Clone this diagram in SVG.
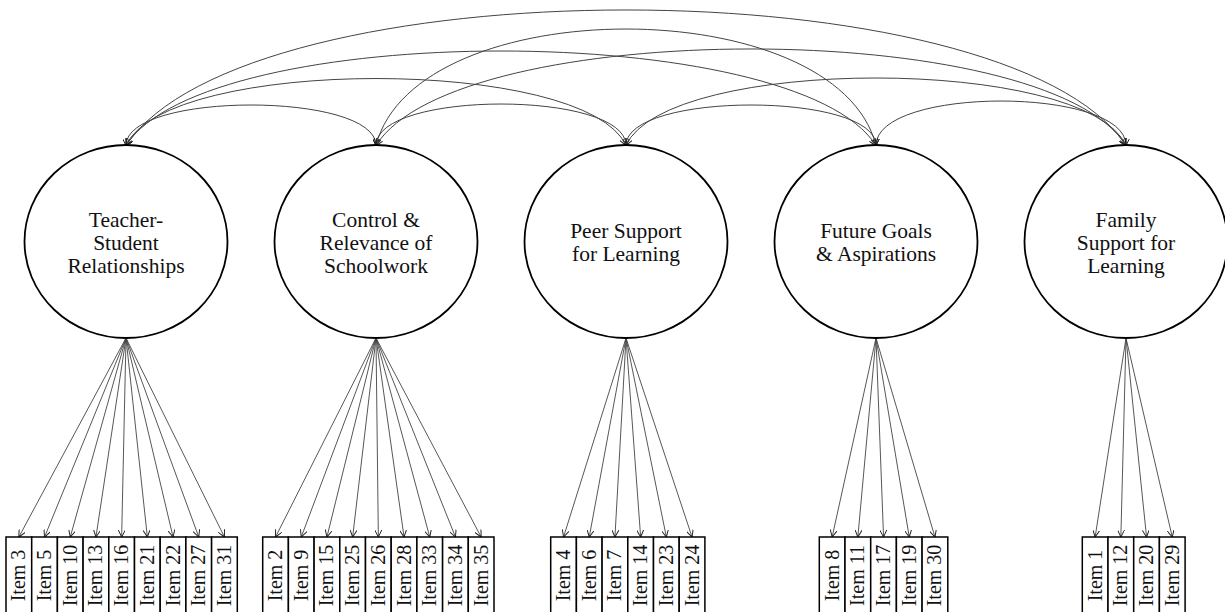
<svg xmlns="http://www.w3.org/2000/svg" width="1225" height="612" viewBox="0 0 1225 612">
<style>
.lv{fill:#fff;stroke:#000;stroke-width:1.8}
.lt{font-family:"Liberation Serif","DejaVu Serif",serif;font-size:21.5px;fill:#111;text-anchor:middle}
.bx{fill:#fff;stroke:#000;stroke-width:1.5}
.it{font-family:"Liberation Serif","DejaVu Serif",serif;font-size:20px;fill:#111;text-anchor:middle}
.cov{fill:none;stroke:#444;stroke-width:1;marker-start:url(#ah);marker-end:url(#ah)}
.ld{fill:none;stroke:#444;stroke-width:0.9;marker-end:url(#ah)}
</style>
<defs>
<marker id="ah" viewBox="0 0 10 10" refX="10" refY="5" markerWidth="7" markerHeight="7" markerUnits="userSpaceOnUse" orient="auto-start-reverse">
<path d="M0,0 L10,5 L0,10" fill="none" stroke="#222" stroke-width="1.4"/>
</marker>
</defs>
<g id="connectors">
<path class="cov" d="M126,145.5 C126,91.5 376,91.5 376,145.5"/>
<path class="cov" d="M376,145.5 C376,90.2 626,90.2 626,145.5"/>
<path class="cov" d="M626,145.5 C626,91.5 876,91.5 876,145.5"/>
<path class="cov" d="M876,145.5 C876,86.2 1126,86.2 1126,145.5"/>
<path class="cov" d="M126,145.5 C166,56.2 586,56.2 626,145.5"/>
<path class="cov" d="M626,145.5 C666,55.5 1086,55.5 1126,145.5"/>
<path class="cov" d="M376,145.5 C416,-9.8 836,-9.8 876,145.5"/>
<path class="cov" d="M126,145.5 C206,19.5 796,19.5 876,145.5"/>
<path class="cov" d="M376,145.5 C456,16.8 1046,16.8 1126,145.5"/>
<path class="cov" d="M126,145.5 C246,-35.2 1006,-35.2 1126,145.5"/>
<line class="ld" x1="126" y1="338" x2="18.85" y2="537"/>
<line class="ld" x1="126" y1="338" x2="44.55" y2="537"/>
<line class="ld" x1="126" y1="338" x2="70.25" y2="537"/>
<line class="ld" x1="126" y1="338" x2="95.95" y2="537"/>
<line class="ld" x1="126" y1="338" x2="121.65" y2="537"/>
<line class="ld" x1="126" y1="338" x2="147.35" y2="537"/>
<line class="ld" x1="126" y1="338" x2="173.05" y2="537"/>
<line class="ld" x1="126" y1="338" x2="198.75" y2="537"/>
<line class="ld" x1="126" y1="338" x2="224.45" y2="537"/>
<line class="ld" x1="376" y1="338" x2="275.55" y2="537"/>
<line class="ld" x1="376" y1="338" x2="301.25" y2="537"/>
<line class="ld" x1="376" y1="338" x2="326.95" y2="537"/>
<line class="ld" x1="376" y1="338" x2="352.65" y2="537"/>
<line class="ld" x1="376" y1="338" x2="378.35" y2="537"/>
<line class="ld" x1="376" y1="338" x2="404.05" y2="537"/>
<line class="ld" x1="376" y1="338" x2="429.75" y2="537"/>
<line class="ld" x1="376" y1="338" x2="455.45" y2="537"/>
<line class="ld" x1="376" y1="338" x2="481.15" y2="537"/>
<line class="ld" x1="626" y1="338" x2="563.55" y2="537"/>
<line class="ld" x1="626" y1="338" x2="589.25" y2="537"/>
<line class="ld" x1="626" y1="338" x2="614.95" y2="537"/>
<line class="ld" x1="626" y1="338" x2="640.65" y2="537"/>
<line class="ld" x1="626" y1="338" x2="666.35" y2="537"/>
<line class="ld" x1="626" y1="338" x2="692.05" y2="537"/>
<line class="ld" x1="876" y1="338" x2="832.15" y2="537"/>
<line class="ld" x1="876" y1="338" x2="857.85" y2="537"/>
<line class="ld" x1="876" y1="338" x2="883.55" y2="537"/>
<line class="ld" x1="876" y1="338" x2="909.25" y2="537"/>
<line class="ld" x1="876" y1="338" x2="934.95" y2="537"/>
<line class="ld" x1="1126" y1="338" x2="1095.15" y2="537"/>
<line class="ld" x1="1126" y1="338" x2="1120.85" y2="537"/>
<line class="ld" x1="1126" y1="338" x2="1146.55" y2="537"/>
<line class="ld" x1="1126" y1="338" x2="1172.25" y2="537"/>
</g>
<g id="teacher-student">
<ellipse class="lv" cx="126" cy="241.5" rx="101.5" ry="96.5"/>
<text class="lt" x="126" y="226.5">Teacher-</text>
<text class="lt" x="126" y="249.5">Student</text>
<text class="lt" x="126" y="272.5">Relationships</text>
</g>
<g id="control-relevance">
<ellipse class="lv" cx="376" cy="241.5" rx="101.5" ry="96.5"/>
<text class="lt" x="376" y="226.5">Control &amp;</text>
<text class="lt" x="376" y="249.5">Relevance of</text>
<text class="lt" x="376" y="272.5">Schoolwork</text>
</g>
<g id="peer-support">
<ellipse class="lv" cx="626" cy="241.5" rx="101.5" ry="96.5"/>
<text class="lt" x="626" y="237.5">Peer Support</text>
<text class="lt" x="626" y="260.5">for Learning</text>
</g>
<g id="future-goals">
<ellipse class="lv" cx="876" cy="241.5" rx="101.5" ry="96.5"/>
<text class="lt" x="876" y="237.5">Future Goals</text>
<text class="lt" x="876" y="260.5">&amp; Aspirations</text>
</g>
<g id="family-support">
<ellipse class="lv" cx="1126" cy="241.5" rx="101.5" ry="96.5"/>
<text class="lt" x="1126" y="226.5">Family</text>
<text class="lt" x="1126" y="249.5">Support for</text>
<text class="lt" x="1126" y="272.5">Learning</text>
</g>
<g id="items-ts">
<rect class="bx" x="6" y="537" width="25.7" height="90"/><text class="it" transform="translate(18.85,575.5) rotate(-90)" y="6.5">Item 3</text>
<rect class="bx" x="31.7" y="537" width="25.7" height="90"/><text class="it" transform="translate(44.55,575.5) rotate(-90)" y="6.5">Item 5</text>
<rect class="bx" x="57.4" y="537" width="25.7" height="90"/><text class="it" transform="translate(70.25,575.5) rotate(-90)" y="6.5">Item 10</text>
<rect class="bx" x="83.1" y="537" width="25.7" height="90"/><text class="it" transform="translate(95.95,575.5) rotate(-90)" y="6.5">Item 13</text>
<rect class="bx" x="108.8" y="537" width="25.7" height="90"/><text class="it" transform="translate(121.65,575.5) rotate(-90)" y="6.5">Item 16</text>
<rect class="bx" x="134.5" y="537" width="25.7" height="90"/><text class="it" transform="translate(147.35,575.5) rotate(-90)" y="6.5">Item 21</text>
<rect class="bx" x="160.2" y="537" width="25.7" height="90"/><text class="it" transform="translate(173.05,575.5) rotate(-90)" y="6.5">Item 22</text>
<rect class="bx" x="185.9" y="537" width="25.7" height="90"/><text class="it" transform="translate(198.75,575.5) rotate(-90)" y="6.5">Item 27</text>
<rect class="bx" x="211.6" y="537" width="25.7" height="90"/><text class="it" transform="translate(224.45,575.5) rotate(-90)" y="6.5">Item 31</text>
</g>
<g id="items-cr">
<rect class="bx" x="262.7" y="537" width="25.7" height="90"/><text class="it" transform="translate(275.55,575.5) rotate(-90)" y="6.5">Item 2</text>
<rect class="bx" x="288.4" y="537" width="25.7" height="90"/><text class="it" transform="translate(301.25,575.5) rotate(-90)" y="6.5">Item 9</text>
<rect class="bx" x="314.1" y="537" width="25.7" height="90"/><text class="it" transform="translate(326.95,575.5) rotate(-90)" y="6.5">Item 15</text>
<rect class="bx" x="339.8" y="537" width="25.7" height="90"/><text class="it" transform="translate(352.65,575.5) rotate(-90)" y="6.5">Item 25</text>
<rect class="bx" x="365.5" y="537" width="25.7" height="90"/><text class="it" transform="translate(378.35,575.5) rotate(-90)" y="6.5">Item 26</text>
<rect class="bx" x="391.2" y="537" width="25.7" height="90"/><text class="it" transform="translate(404.05,575.5) rotate(-90)" y="6.5">Item 28</text>
<rect class="bx" x="416.9" y="537" width="25.7" height="90"/><text class="it" transform="translate(429.75,575.5) rotate(-90)" y="6.5">Item 33</text>
<rect class="bx" x="442.6" y="537" width="25.7" height="90"/><text class="it" transform="translate(455.45,575.5) rotate(-90)" y="6.5">Item 34</text>
<rect class="bx" x="468.3" y="537" width="25.7" height="90"/><text class="it" transform="translate(481.15,575.5) rotate(-90)" y="6.5">Item 35</text>
</g>
<g id="items-ps">
<rect class="bx" x="550.7" y="537" width="25.7" height="90"/><text class="it" transform="translate(563.55,575.5) rotate(-90)" y="6.5">Item 4</text>
<rect class="bx" x="576.4" y="537" width="25.7" height="90"/><text class="it" transform="translate(589.25,575.5) rotate(-90)" y="6.5">Item 6</text>
<rect class="bx" x="602.1" y="537" width="25.7" height="90"/><text class="it" transform="translate(614.95,575.5) rotate(-90)" y="6.5">Item 7</text>
<rect class="bx" x="627.8" y="537" width="25.7" height="90"/><text class="it" transform="translate(640.65,575.5) rotate(-90)" y="6.5">Item 14</text>
<rect class="bx" x="653.5" y="537" width="25.7" height="90"/><text class="it" transform="translate(666.35,575.5) rotate(-90)" y="6.5">Item 23</text>
<rect class="bx" x="679.2" y="537" width="25.7" height="90"/><text class="it" transform="translate(692.05,575.5) rotate(-90)" y="6.5">Item 24</text>
</g>
<g id="items-fg">
<rect class="bx" x="819.3" y="537" width="25.7" height="90"/><text class="it" transform="translate(832.15,575.5) rotate(-90)" y="6.5">Item 8</text>
<rect class="bx" x="845" y="537" width="25.7" height="90"/><text class="it" transform="translate(857.85,575.5) rotate(-90)" y="6.5">Item 11</text>
<rect class="bx" x="870.7" y="537" width="25.7" height="90"/><text class="it" transform="translate(883.55,575.5) rotate(-90)" y="6.5">Item 17</text>
<rect class="bx" x="896.4" y="537" width="25.7" height="90"/><text class="it" transform="translate(909.25,575.5) rotate(-90)" y="6.5">Item 19</text>
<rect class="bx" x="922.1" y="537" width="25.7" height="90"/><text class="it" transform="translate(934.95,575.5) rotate(-90)" y="6.5">Item 30</text>
</g>
<g id="items-fs">
<rect class="bx" x="1082.3" y="537" width="25.7" height="90"/><text class="it" transform="translate(1095.15,575.5) rotate(-90)" y="6.5">Item 1</text>
<rect class="bx" x="1108" y="537" width="25.7" height="90"/><text class="it" transform="translate(1120.85,575.5) rotate(-90)" y="6.5">Item 12</text>
<rect class="bx" x="1133.7" y="537" width="25.7" height="90"/><text class="it" transform="translate(1146.55,575.5) rotate(-90)" y="6.5">Item 20</text>
<rect class="bx" x="1159.4" y="537" width="25.7" height="90"/><text class="it" transform="translate(1172.25,575.5) rotate(-90)" y="6.5">Item 29</text>
</g>
</svg>
